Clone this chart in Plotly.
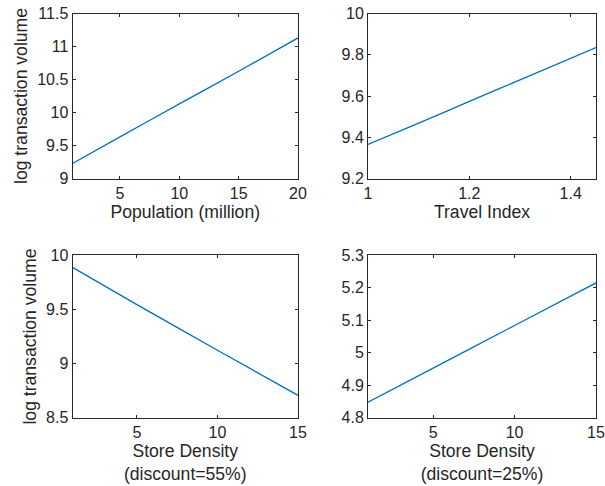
import plotly.graph_objects as go

# ---- data ----
pop_x = [1, 5, 10, 15, 20]
pop_y = [9.227, 9.63, 10.13, 10.625, 11.13]

travel_x = [1.0, 1.1, 1.2, 1.3, 1.45]
travel_y = [9.365, 9.468, 9.574, 9.678, 9.835]

dens55_x = [1, 5, 10, 15]
dens55_y = [9.889, 9.545, 9.124, 8.707]

dens25_x = [1, 5, 10, 15]
dens25_y = [4.848, 4.953, 5.084, 5.215]

x_titles = ["Population (million)", "Travel Index",
            "Store Density<br>(discount=55%)", "Store Density<br>(discount=25%)"]
y_title = "log transaction volume"

W, H = 605, 486
LINE = "#0072BD"
AX = "#262626"
FONT = "Liberation Sans, Arial, Helvetica, sans-serif"

def px_x(a, b):
    return [a / W, b / W]

def px_y(top, bottom):
    return [1 - bottom / H, 1 - top / H]

fig = go.Figure()
series = [(pop_x, pop_y), (travel_x, travel_y), (dens55_x, dens55_y), (dens25_x, dens25_y)]
for i, (xs, ys) in enumerate(series):
    sfx = "" if i == 0 else str(i + 1)
    fig.add_trace(go.Scatter(x=xs, y=ys, mode="lines",
                             line=dict(color=LINE, width=1.3, shape="spline", smoothing=0.6),
                             xaxis="x" + sfx, yaxis="y" + sfx,
                             showlegend=False, hoverinfo="skip"))

left_dom = px_x(72.5, 298)
right_dom = px_x(368, 596)
top_dom = px_y(13.5, 178.5)
bot_dom = px_y(255.3, 417.8)

def axis_common():
    return dict(showgrid=False, zeroline=False, showline=True, linecolor=AX,
                linewidth=1, mirror="ticks", ticks="inside", ticklen=3,
                tickcolor=AX, tickwidth=1,
                tickfont=dict(family=FONT, size=16, color=AX),
                automargin=False)

specs = [
    # (xdomain, ydomain, xrange, xdtick, yrange, ydtick, ytitle)
    (left_dom, top_dom, [1, 20], 5, [9, 11.5], 0.5, True),
    (right_dom, top_dom, [1, 1.45], 0.2, [9.2, 10], 0.2, False),
    (left_dom, bot_dom, [1, 15], 5, [8.5, 10], 0.5, True),
    (right_dom, bot_dom, [1, 15], 5, [4.8, 5.3], 0.1, False),
]

layout = dict(width=W, height=H, margin=dict(l=0, r=0, t=0, b=0),
              paper_bgcolor="white", plot_bgcolor="white",
              font=dict(family=FONT, color=AX))

for i, (xd, yd, xr, xdt, yr, ydt, has_yt) in enumerate(specs):
    sfx = "" if i == 0 else str(i + 1)
    xa = axis_common()
    xa.update(domain=xd, range=xr, dtick=xdt, tick0=0,
              anchor="y" + sfx,
              title=dict(text=x_titles[i], font=dict(family=FONT, size=17.6, color=AX),
                         standoff=2))
    ya = axis_common()
    ya.update(domain=yd, range=yr, dtick=ydt, tick0=0, anchor="x" + sfx)
    if has_yt:
        ya.update(title=dict(text=y_title, font=dict(family=FONT, size=17.6, color=AX),
                             standoff=4))
    layout["xaxis" + sfx] = xa
    layout["yaxis" + sfx] = ya

fig.update_layout(**layout)
fig.write_html("out.html",
               config={"displayModeBar": False, "staticPlot": True},
               post_script="document.body.style.margin='0px';document.body.style.overflow='hidden';")
